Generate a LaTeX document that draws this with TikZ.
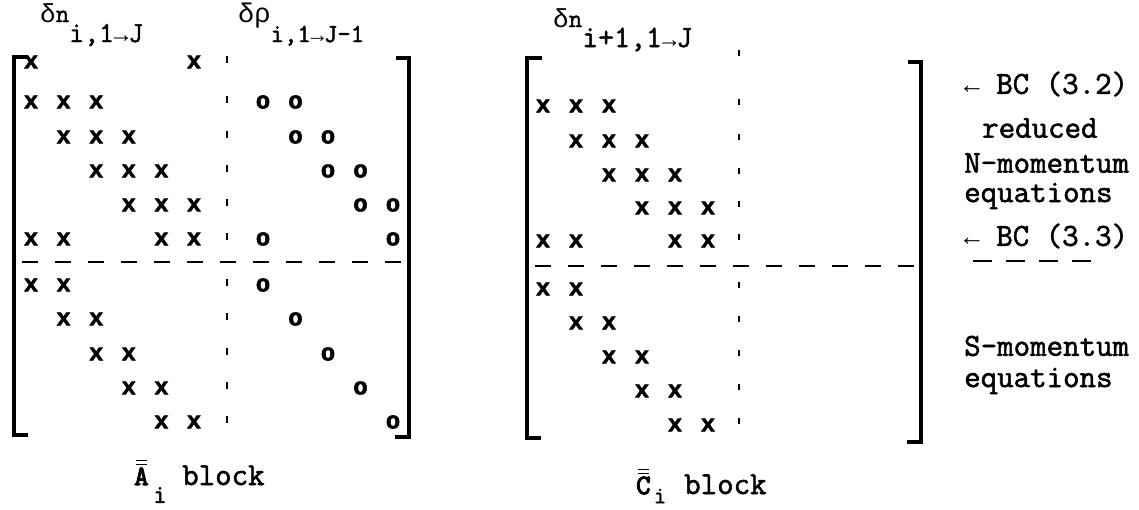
\documentclass[tikz,border=0pt]{standalone}
\usepackage{fontspec}
\newfontfamily\tw[FakeBold=1.7]{Latin Modern Mono}
\newfontfamily\twbold[FakeBold=4]{Latin Modern Mono}
\newfontfamily\sym{Liberation Mono}
\newfontfamily\mk[BoldFeatures={FakeBold=2.2}]{Liberation Mono}
\newcommand\gk[1]{{\sym #1}}
\begin{document}
\begin{tikzpicture}[x=1pt,y=-1pt,
  lbl/.style={inner sep=0pt,font=\tw\fontsize{32}{34}\selectfont},
  hdr/.style={anchor=base west,inner sep=0pt},
  ent/.style={inner sep=0pt,font=\mk\bfseries\fontsize{24}{24}\selectfont},
  brk/.style={line width=4pt},
  hdash/.style={line width=2.4pt,dash pattern=on 16pt off 17pt},
  vtick/.style={line width=2.6pt},
  bar/.style={line width=1.6pt}]
\useasboundingbox (0,0) rectangle (1139,509);

% ---------------- A block ----------------
% column headers
\node[hdr,font=\tw\fontsize{26}{28}\selectfont] (An) at (40,22)
  {\gk{δ}n\raisebox{-20pt}{\fontsize{29}{30}\selectfont i,1\gk{\fontsize{24}{26}\selectfont →}J}};
\node[hdr,font=\tw\fontsize{27}{28}\selectfont] (Arho) at (238,22)
  {\gk{δρ}\raisebox{-20pt}{\fontsize{26}{28}\selectfont i,1\gk{\fontsize{22}{26}\selectfont →}J-1}};

% brackets
\draw[brk] (28,57) -- (14,57) -- (14,435) -- (28,435);
\draw[brk] (396,58) -- (409,58) -- (409,437) -- (395,437);

% x entries: row / y / columns
\foreach \r/\y/\cs in {1/62/{1,6},2/102/{1,2,3},3/137/{2,3,4},4/171/{3,4,5},
    5/205/{4,5,6},6/239/{1,2,5,6},7/285/{1,2},8/319/{2,3},9/354/{3,4},
    10/388/{4,5},11/422/{5,6}}
  \foreach \c in \cs
    \node[ent] (A-\r-\c) at ({31+(\c-1)*32.6},\y) {x};

% o entries: row / y / columns
\foreach \r/\y/\ks in {2/102/{1,2},3/137/{2,3},4/171/{3,4},5/205/{4,5},
    6/239/{1,5},7/285/{1},8/319/{2},9/354/{3},10/388/{4},11/422/{5}}
  \foreach \k in \ks
    \node[ent] (Ao-\r-\k) at ({263+(\k-1)*32.5},\y) {o};

% partition lines
\foreach \y in {62,102,137,171,205,239,285,319,354,388,422}
  \draw[vtick] (227,\y-6) -- (227,\y+1);
\draw[hdash] (22,262) -- (410,262);

% ---------------- C block ----------------
\node[hdr,font=\tw\fontsize{26}{28}\selectfont] (Cn) at (553,27)
  {\gk{δ}n\raisebox{-20pt}{\fontsize{31}{32}\selectfont i+1,1\gk{\fontsize{24}{26}\selectfont →}J}};

\draw[brk] (542,58) -- (527,58) -- (527,438) -- (541,438);
\draw[brk] (908,62) -- (921,62) -- (921,442) -- (907,442);

\foreach \r/\y/\cs in {2/106/{1,2,3},3/141/{2,3,4},4/175/{3,4,5},5/208/{4,5,6},
    6/241/{1,2,5,6},7/289/{1,2},8/323/{2,3},9/357/{3,4},10/391/{4,5},11/425/{5,6}}
  \foreach \c in \cs
    \node[ent] (C-\r-\c) at ({543+(\c-1)*33},\y) {x};

\foreach \y in {57,106,141,175,208,241,289,323,357,391,425}
  \draw[vtick] (739,\y-7) -- (739,\y-1);
\draw[hdash] (535,266) -- (916,266);

% ---------------- row annotations ----------------
\node[lbl,anchor=west] (bc32) at (964,84) {\gk{\fontsize{26}{28}\selectfont ←} BC (3.2)};
\node[lbl,anchor=west] (red) at (982,128) {reduced};
\node[lbl,anchor=west] (nmom) at (964,163) {N-momentum};
\node[lbl,anchor=west] (neq) at (964,196) {equations};
\node[lbl,anchor=west] (bc33) at (964,236) {\gk{\fontsize{26}{28}\selectfont ←} BC (3.3)};
\draw[line width=2.2pt,dash pattern=on 19pt off 14pt] (973,261) -- (1096,261);
\node[lbl,anchor=west] (smom) at (964,346) {S-momentum};
\node[lbl,anchor=west] (seq) at (964,381) {equations};

% ---------------- block names ----------------
\node[anchor=base west,inner sep=0pt,font=\twbold\fontsize{28}{30}\selectfont] (Ab) at (134,485) {A};
\draw[bar] ([xshift=1.5pt,yshift=3pt]Ab.north west) -- ([xshift=-1.5pt,yshift=3pt]Ab.north east);
\draw[bar] ([xshift=1.5pt,yshift=7pt]Ab.north west) -- ([xshift=-1.5pt,yshift=7pt]Ab.north east);
\node[inner sep=0pt,font=\tw\fontsize{26}{28}\selectfont] (Ai) at (160,495) {i};
\node[lbl,anchor=base west] (Ablk) at (182,485) {block};

\node[anchor=base west,inner sep=0pt,font=\twbold\fontsize{28}{30}\selectfont] (Cb) at (636,494) {C};
\draw[bar] ([xshift=1.5pt,yshift=3pt]Cb.north west) -- ([xshift=-1.5pt,yshift=3pt]Cb.north east);
\draw[bar] ([xshift=1.5pt,yshift=7pt]Cb.north west) -- ([xshift=-1.5pt,yshift=7pt]Cb.north east);
\node[inner sep=0pt,font=\tw\fontsize{24}{26}\selectfont] (Ci) at (660,496) {i};
\node[lbl,anchor=base west] (Cblk) at (684,494) {block};
\end{tikzpicture}
\end{document}
